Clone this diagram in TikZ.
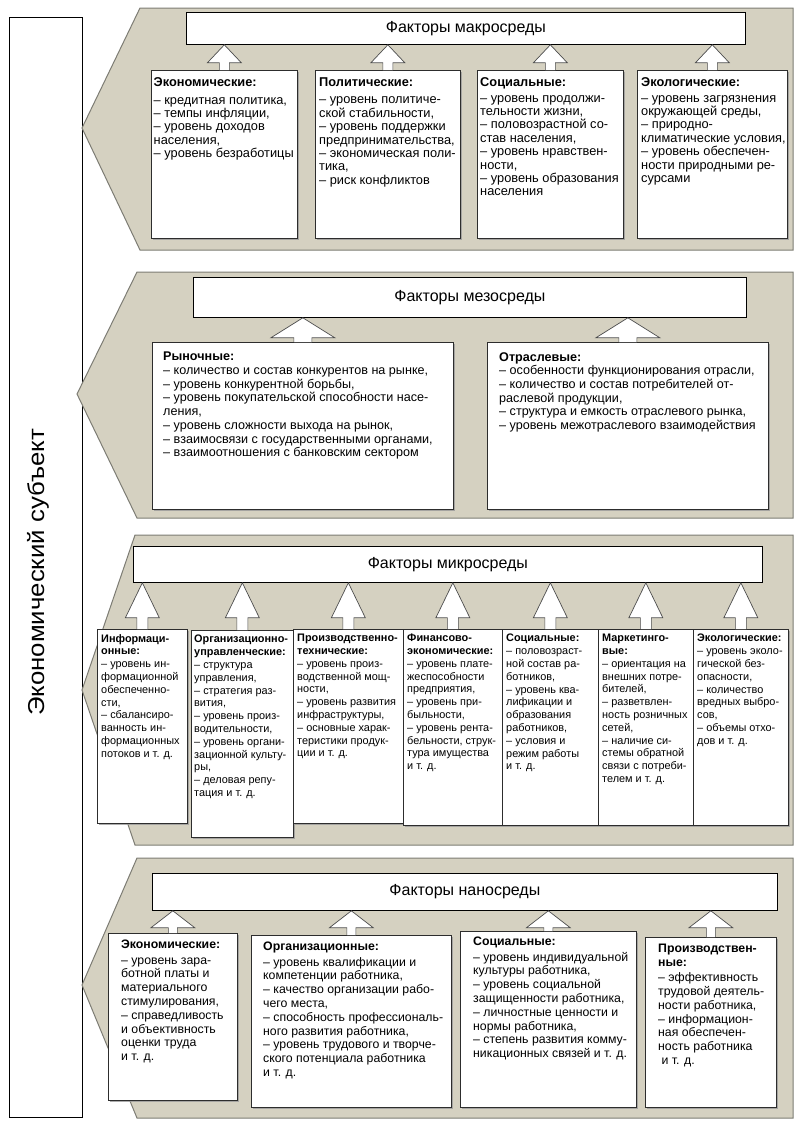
\documentclass[tikz,border=0pt]{standalone}
\usepackage{fontspec}
\setmainfont{Liberation Sans}
\usetikzlibrary{calc,shadows}

\definecolor{bandfill}{RGB}{213,209,193}
\definecolor{bandline}{RGB}{125,124,116}
\definecolor{boxline}{RGB}{45,45,45}

\begin{document}
\begin{tikzpicture}[x=1pt,y=-1pt,
    band/.style={fill=bandfill, draw=bandline, line width=1pt},
    titlebox/.style={draw=black, fill=white, line width=0.8pt, anchor=north west, inner sep=0pt, font=\fontsize{16}{19}\selectfont},
    factbox/.style={draw=boxline, fill=white, line width=0.7pt, anchor=north west, inner sep=0pt,
        drop shadow={shadow xshift=2pt, shadow yshift=-2pt, fill=black!40, opacity=0.8}},
    facttext/.style 2 args={anchor=north west, inner sep=0pt, align=left, font=\fontsize{#1}{#2}\selectfont},
    hollow/.style={fill=white, draw=black!70, line width=0.7pt, line join=miter}]
    \useasboundingbox (0,0) rectangle (803,1133);

    % Subject column
    \node[draw=black, line width=0.8pt, anchor=north west, minimum width=73, minimum height=1100] (subj) at (9,17) {};
    \node[rotate=90, font=\fontsize{23}{27}\selectfont] (subjt) at ($(subj.center)+(-8,5)$) {\scalebox{1.12}[1]{Экономический субъект}};

    % Macro environment
    \draw[band] (140,8) -- (793,8) -- (793,250) -- (140,250) -- (82,128) -- cycle;
    \node[titlebox, minimum width=559, minimum height=32] (mat) at (186,12) {Факторы макросреды};
    \node[factbox, minimum width=146, minimum height=168] (ma1) at (151,70) {};
    \node[factbox, minimum width=145, minimum height=168] (ma2) at (315,70) {};
    \node[factbox, minimum width=146, minimum height=168] (ma3) at (477,70) {};
    \node[factbox, minimum width=150, minimum height=168] (ma4) at (637,70) {};
    \node[facttext={12.8}{13.4}] (ma1t) at ($(ma1.north west)+(2.5,7.5)$) {\textbf{Экономические:}\\[4pt]– кредитная политика,\\– темпы инфляции,\\– уровень доходов\\населения,\\– уровень безработицы};
    \node[facttext={12.8}{13.4}] (ma2t) at ($(ma2.north west)+(4,7.5)$) {\textbf{Политические:}\\[4pt]– уровень политиче-\\ской стабильности,\\– уровень поддержки\\предпринимательства,\\– экономическая поли-\\тика,\\– риск конфликтов};
    \node[facttext={12.8}{13.4}] (ma3t) at ($(ma3.north west)+(3,7.5)$) {\textbf{Социальные:}\\[2pt]– уровень продолжи-\\тельности жизни,\\– половозрастной со-\\став населения,\\– уровень нравствен-\\ности,\\– уровень образования\\населения};
    \node[facttext={12.8}{13.4}] (ma4t) at ($(ma4.north west)+(4,7.5)$) {\textbf{Экологические:}\\[2pt]– уровень загрязнения\\окружающей среды,\\– природно-\\климатические условия,\\– уровень обеспечен-\\ности природными ре-\\сурсами};
    \foreach \b in {ma1,ma2,ma3,ma4}{
        \coordinate (tip) at (\b.north |- mat.south);
        \filldraw[hollow] ($(\b.north)+(-5,0)$) -- ($(tip)+(-5,18)$) -- ($(tip)+(-17,18)$) -- (tip)
            -- ($(tip)+(17,18)$) -- ($(tip)+(5,18)$) -- ($(\b.north)+(5,0)$);
    }

    % Meso environment
    \draw[band] (137,272) -- (793,272) -- (793,518) -- (137,518) -- (77,394) -- cycle;
    \node[titlebox, minimum width=553, minimum height=40] (met) at (193,277) {Факторы мезосреды};
    \node[factbox, minimum width=301, minimum height=167] (me1) at (152,342) {};
    \node[factbox, minimum width=281, minimum height=167] (me2) at (487,342) {};
    \node[facttext={12.6}{13.7}] (me1t) at ($(me1.north west)+(11,10)$) {\textbf{Рыночные:}\\– количество и состав конкурентов на рынке,\\– уровень конкурентной борьбы,\\– уровень покупательской способности насе-\\ления,\\– уровень сложности выхода на рынок,\\– взаимосвязи с государственными органами,\\– взаимоотношения с банковским сектором};
    \node[facttext={12.6}{13.7}] (me2t) at ($(me2.north west)+(12,10)$) {\textbf{Отраслевые:}\\– особенности функционирования отрасли,\\– количество и состав потребителей от-\\раслевой продукции,\\– структура и емкость отраслевого рынка,\\– уровень межотраслевого взаимодействия};
    \foreach \b in {me1,me2}{
        \coordinate (tip) at (\b.north |- met.south);
        \filldraw[hollow] ($(\b.north)+(-9,0)$) -- ($(tip)+(-9,20)$) -- ($(tip)+(-32,20)$) -- (tip)
            -- ($(tip)+(32,20)$) -- ($(tip)+(9,20)$) -- ($(\b.north)+(9,0)$);
    }

    % Micro environment
    \draw[band] (135,535) -- (793,535) -- (793,845) -- (135,845) -- (82,690) -- cycle;
    \node[titlebox, minimum width=629, minimum height=36] (mit) at (133,546) {Факторы микросреды};
    \node[factbox, minimum width=90, minimum height=194] (mi1) at (97,629) {};
    \node[factbox, minimum width=102, minimum height=207] (mi2) at (191,630) {};
    \node[factbox, minimum width=110, minimum height=194] (mi3) at (293,629) {};
    \node[factbox, minimum width=99, minimum height=196] (mi4) at (403,629) {};
    \node[factbox, minimum width=96, minimum height=196] (mi5) at (502,629) {};
    \node[factbox, minimum width=95, minimum height=196] (mi6) at (598,629) {};
    \node[factbox, minimum width=95, minimum height=196] (mi7) at (693,629) {};
    \node[facttext={10.9}{12.8}] (mi1t) at ($(mi1.north west)+(4,5)$) {\textbf{Информаци-}\\\textbf{онные:}\\– уровень ин-\\формационной\\обеспеченно-\\сти,\\– сбалансиро-\\ванность ин-\\формационных\\потоков и т. д.};
    \node[facttext={10.9}{12.8}] (mi2t) at ($(mi2.north west)+(3,5)$) {\textbf{Организационно-}\\\textbf{управленческие:}\\– структура\\управления,\\– стратегия раз-\\вития,\\– уровень произ-\\водительности,\\– уровень органи-\\зационной культу-\\ры,\\– деловая репу-\\тация и т. д.};
    \node[facttext={10.9}{12.8}] (mi3t) at ($(mi3.north west)+(4,5)$) {\textbf{Производственно-}\\\textbf{технические:}\\– уровень произ-\\водственной мощ-\\ности,\\– уровень развития\\инфраструктуры,\\– основные харак-\\теристики продук-\\ции и т. д.};
    \node[facttext={10.9}{12.8}] (mi4t) at ($(mi4.north west)+(4,5)$) {\textbf{Финансово-}\\\textbf{экономические:}\\– уровень плате-\\жеспособности\\предприятия,\\– уровень при-\\быльности,\\– уровень рента-\\бельности, струк-\\тура имущества\\и т. д.};
    \node[facttext={10.9}{12.8}] (mi5t) at ($(mi5.north west)+(4,5)$) {\textbf{Социальные:}\\– половозраст-\\ной состав ра-\\ботников,\\– уровень ква-\\лификации и\\образования\\работников,\\– условия и\\режим работы\\и т. д.};
    \node[facttext={10.9}{12.8}] (mi6t) at ($(mi6.north west)+(4,5)$) {\textbf{Маркетинго-}\\\textbf{вые:}\\– ориентация на\\внешних потре-\\бителей,\\– разветвлен-\\ность розничных\\сетей,\\– наличие си-\\стемы обратной\\связи с потреби-\\телем и т. д.};
    \node[facttext={10.9}{12.8}] (mi7t) at ($(mi7.north west)+(4,5)$) {\textbf{Экологические:}\\– уровень эколо-\\гической без-\\опасности,\\– количество\\вредных выбро-\\сов,\\– объемы отхо-\\дов и т. д.};
    \foreach \b in {mi1,mi2,mi3,mi4,mi5,mi6,mi7}{
        \coordinate (tip) at (\b.north |- mit.south);
        \filldraw[hollow] ($(\b.north)+(-5.5,0)$) -- ($(tip)+(-5.5,35)$) -- ($(tip)+(-17,35)$) -- (tip)
            -- ($(tip)+(17,35)$) -- ($(tip)+(5.5,35)$) -- ($(\b.north)+(5.5,0)$);
    }

    % Nano environment
    \draw[band] (137,858) -- (793,858) -- (793,1118) -- (137,1118) -- (82,985) -- cycle;
    \node[titlebox, minimum width=625, minimum height=37] (nat) at (152,873) {Факторы наносреды};
    \node[factbox, minimum width=129, minimum height=167] (na1) at (108,933) {};
    \node[factbox, minimum width=200, minimum height=172] (na2) at (251,935) {};
    \node[factbox, minimum width=176, minimum height=176] (na3) at (460,931) {};
    \node[factbox, minimum width=131, minimum height=170] (na4) at (645,937) {};
    \node[facttext={12.3}{13.8}] (na1t) at ($(na1.north west)+(13,7)$) {\textbf{Экономические:}\\[1.5pt]– уровень зара-\\ботной платы и\\материального\\стимулирования,\\– справедливость\\и объективность\\оценки труда\\и т. д.};
    \node[facttext={12.3}{13.8}] (na2t) at ($(na2.north west)+(12,7)$) {\textbf{Организационные:}\\[1.5pt]– уровень квалификации и\\компетенции работника,\\– качество организации рабо-\\чего места,\\– способность профессиональ-\\ного развития работника,\\– уровень трудового и творче-\\ского потенциала работника\\и т. д.};
    \node[facttext={12.3}{13.8}] (na3t) at ($(na3.north west)+(13,6)$) {\textbf{Социальные:}\\[1.5pt]– уровень индивидуальной\\культуры работника,\\– уровень социальной\\защищенности работника,\\– личностные ценности и\\нормы работника,\\– степень развития комму-\\никационных связей и т. д.};
    \node[facttext={12.3}{13.8}] (na4t) at ($(na4.north west)+(13,7)$) {\textbf{Производствен-}\\\textbf{ные:}\\[1.5pt]– эффективность\\трудовой деятель-\\ности работника,\\– информацион-\\ная обеспечен-\\ность работника\\\ и т. д.};
    \foreach \b in {na1,na2,na3,na4}{
        \coordinate (tip) at (\b.north |- nat.south);
        \filldraw[hollow] ($(\b.north)+(-4.5,0)$) -- ($(tip)+(-4.5,17)$) -- ($(tip)+(-22,17)$) -- (tip)
            -- ($(tip)+(22,17)$) -- ($(tip)+(4.5,17)$) -- ($(\b.north)+(4.5,0)$);
    }
\end{tikzpicture}
\end{document}
